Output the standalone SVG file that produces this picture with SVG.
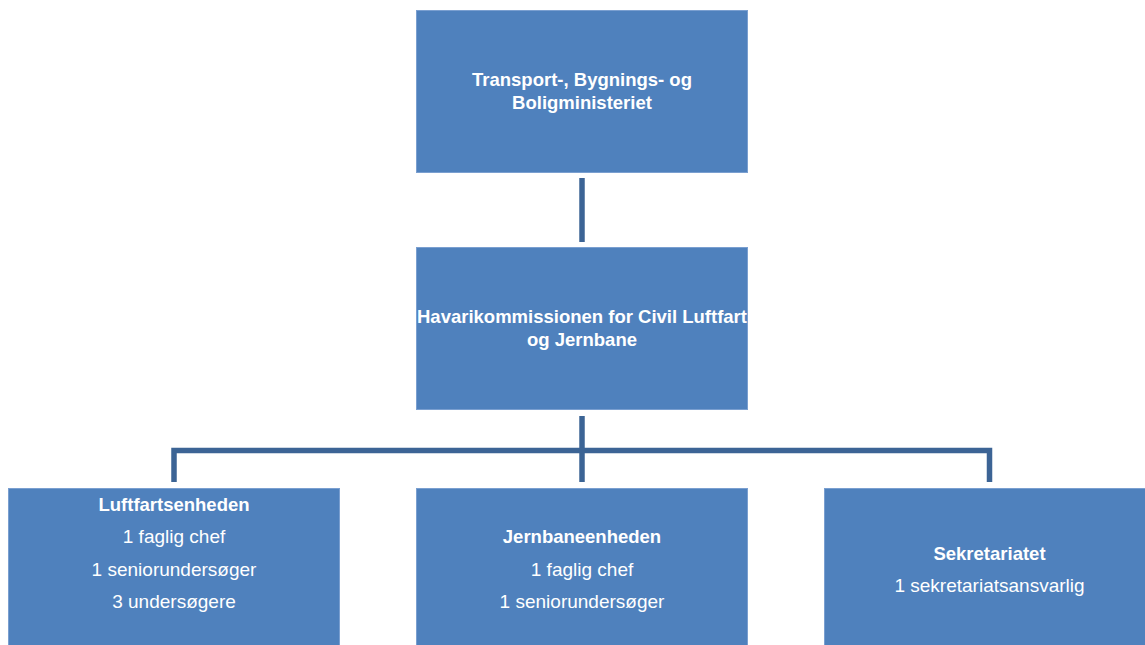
<svg xmlns="http://www.w3.org/2000/svg" width="1145" height="645" viewBox="0 0 1145 645">
<style>
.box{fill:#4F81BD;stroke:#7A9FD0;stroke-width:1}
.con{fill:none;stroke:#3C6495;stroke-width:5.5;stroke-linejoin:miter}
text{font-family:"Liberation Sans",Arial,sans-serif;font-size:19px;fill:#FFFFFF;text-anchor:middle}
.b{font-weight:bold;font-size:18.5px}
</style>
<rect width="1145" height="645" fill="#FFFFFF"/>
<g id="connectors">
<line class="con" x1="582" y1="178" x2="582" y2="242"/>
<line class="con" x1="582" y1="416" x2="582" y2="482"/>
<polyline class="con" points="174,482 174,450.5 989.5,450.5 989.5,482"/>
</g>
<g id="ministeriet">
<rect class="box" x="416.5" y="10.5" width="331" height="162"/>
<text class="b" x="582" y="86">Transport-, Bygnings- og</text>
<text class="b" x="582" y="109">Boligministeriet</text>
</g>
<g id="havarikommissionen">
<rect class="box" x="416.5" y="247.5" width="331" height="162"/>
<text class="b" x="582" y="323">Havarikommissionen for Civil Luftfart</text>
<text class="b" x="582" y="346">og Jernbane</text>
</g>
<g id="luftfartsenheden">
<rect class="box" x="8.5" y="488.5" width="331" height="162"/>
<text class="b" x="174" y="511">Luftfartsenheden</text>
<text x="174" y="543">1 faglig chef</text>
<text x="174" y="575.5">1 seniorundersøger</text>
<text x="174" y="608">3 undersøgere</text>
</g>
<g id="jernbaneenheden">
<rect class="box" x="416.5" y="488.5" width="331" height="162"/>
<text class="b" x="582" y="543">Jernbaneenheden</text>
<text x="582" y="575.5">1 faglig chef</text>
<text x="582" y="608">1 seniorundersøger</text>
</g>
<g id="sekretariatet">
<rect class="box" x="824.5" y="488.5" width="331" height="162"/>
<text class="b" x="989.5" y="559.5">Sekretariatet</text>
<text x="989.5" y="591.5">1 sekretariatsansvarlig</text>
</g>
</svg>
